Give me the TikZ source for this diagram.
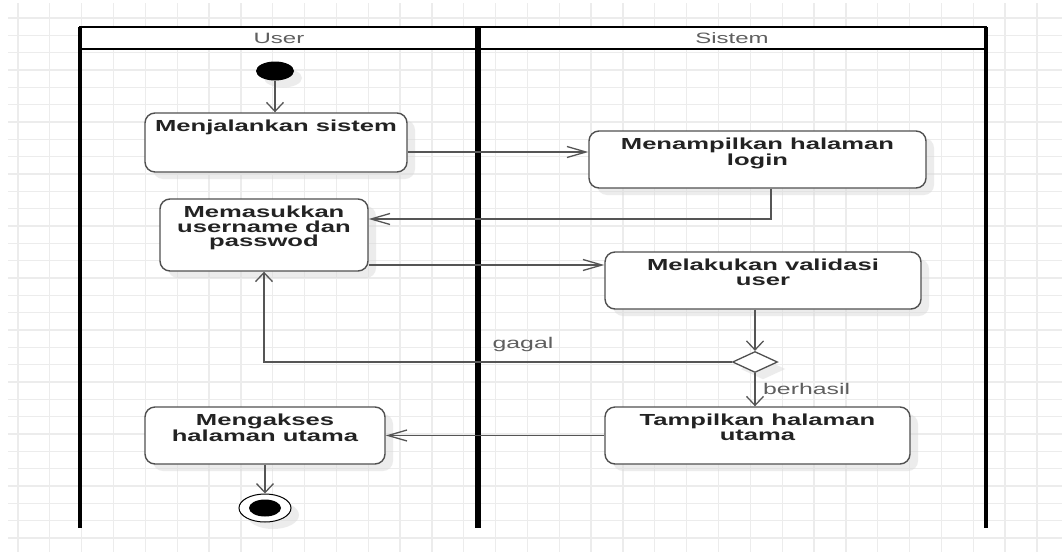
\documentclass[tikz,border=0pt]{standalone}
\usepackage{fontspec}
\setmainfont{Liberation Sans}
\newfontfamily\boxfont[FakeStretch=1.6]{Liberation Sans Bold}
\newfontfamily\lanefont[FakeStretch=1.6]{Liberation Sans}
\usetikzlibrary{arrows.meta,shapes.geometric,shadows}

\definecolor{gridc}{RGB}{236,236,236}
\definecolor{edgec}{RGB}{85,85,85}
\definecolor{boxline}{RGB}{80,80,80}
\definecolor{txt}{RGB}{35,35,35}
\definecolor{lanetxt}{RGB}{95,95,95}
\definecolor{shadowc}{RGB}{215,215,215}

\newcommand\acttxt[3]{\parbox[c][#2pt][t]{#1pt}{\centering\vspace*{7pt}\boxfont\fontsize{16}{14.5}\selectfont\color{txt}#3\par}}

\tikzset{
  gridline/.style={draw=gridc, line width=1.3pt},
  lanehdr/.style={draw=black, line width=2pt, fill=white, inner sep=0pt,
    font=\lanefont\fontsize{15}{18}\selectfont, text=lanetxt, minimum height=22pt},
  laneline/.style={draw=black, line width=3.3pt},
  myshadow/.style={drop shadow={shadow xshift=8pt, shadow yshift=-7pt, fill=shadowc, opacity=0.45}},
  act/.style={draw=boxline, line width=1.4pt, rounded corners=10pt, fill=white, inner sep=0pt, myshadow},
  startnode/.style={ellipse, fill=black, inner sep=0pt, minimum width=38pt, minimum height=19pt, myshadow},
  endnode/.style={ellipse, draw=black, line width=1pt, fill=white, inner sep=0pt,
    minimum width=52pt, minimum height=28pt, myshadow,
    path picture={\fill[black] (path picture bounding box.center) ellipse [x radius=16pt, y radius=8.5pt];}},
  decision/.style={diamond, draw=boxline, line width=1.3pt, fill=white, inner sep=0pt,
    minimum width=45pt, minimum height=21pt, myshadow},
  conn/.style={draw=edgec, line width=1.3pt},
  harrow/.style={-{Straight Barb[length=19pt,width=11pt]}},
  varrow/.style={-{Straight Barb[length=9pt,width=17pt]}},
  lbl/.style={font=\lanefont\fontsize{15.5}{18}\selectfont, text=lanetxt, inner sep=0pt}
}

\begin{document}
\begin{tikzpicture}[x=1pt,y=-1pt]
\useasboundingbox (0,0) rectangle (1062,552);
\fill[white] (0,0) rectangle (1062,552);

% background grid
\foreach \i in {0,...,32} \draw[gridline] ({18+31.84*\i},3) -- ({18+31.84*\i},552);
\foreach \j in {0,...,30} \draw[gridline] (8,{18+17.33*\j}) -- (1062,{18+17.33*\j});

% swimlanes
\node[lanehdr, minimum width=398pt] (userhdr) at (279,38) {User};
\node[lanehdr, minimum width=508pt] (sishdr) at (732,38) {Sistem};
\draw[laneline] (80,27) -- (80,528);
\draw[draw=black, line width=5.3pt] (478,27) -- (478,528);
\draw[laneline] (986,27) -- (986,528);

% nodes
\node[startnode] (start) at (275,71) {};
\node[act] (menj) at (276,142.5) {\acttxt{262}{59}{Menjalankan sistem}};
\node[act] (menamp) at (757.5,159.5) {\acttxt{337}{57}{Menampilkan halaman\\login}};
\node[act] (memas) at (264,235) {\acttxt{208}{72}{Memasukkan\\username dan\\passwod}};
\node[act] (melak) at (763,280.5) {\acttxt{316}{57}{Melakukan validasi\\user}};
\node[decision] (dia) at (755,362) {};
\node[act] (tamp) at (757.5,435.5) {\acttxt{305}{57}{Tampilkan halaman\\utama}};
\node[act] (meng) at (265,435.5) {\acttxt{240}{57}{Mengakses\\halaman utama}};
\node[endnode] (end) at (265,508) {};

% connectors
\draw[conn,varrow] (start.south) -- (start.south |- menj.north);
\draw[conn,harrow] ([yshift=-9.5pt]menj.east) -- ([yshift=-9.5pt]menj.east -| menamp.west);
\draw[conn,harrow] ([xshift=13.5pt]menamp.south) |- ([yshift=16pt]memas.east);
\draw[conn,harrow] ([yshift=-30pt]memas.east) -- ([yshift=-30pt]memas.east -| melak.west);
\draw[conn,varrow] (melak.south -| dia.north) -- (dia.north);
\draw[conn,varrow] (dia.west) -| (memas.south);
\node[lbl] (gagal) at (523,344) {gagal};
\draw[conn,varrow] (dia.south) -- (dia.south |- tamp.north);
\node[lbl, anchor=west] (berhasil) at (763,389) {berhasil};
\draw[conn,harrow] (tamp.west) -- (meng.east);
\draw[conn,varrow] (meng.south) -- (meng.south |- end.north);
\end{tikzpicture}
\end{document}
